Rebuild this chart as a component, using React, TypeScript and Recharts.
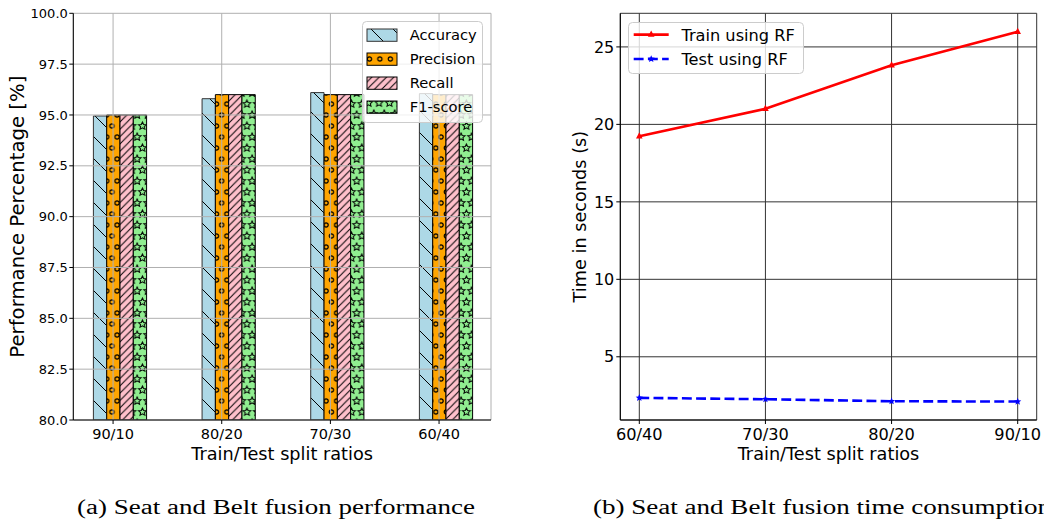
import React from 'react';
import {
  BarChart, Bar, LineChart, Line, XAxis, YAxis, CartesianGrid, Legend,
} from 'recharts';

// ---------- data ----------
const splitLabels = ['90/10', '80/20', '70/30', '60/40'];
const accuracy = [94.95, 95.8, 96.1, 96.05];
const precision = [95.0, 96.0, 96.0, 96.0];
const recall = [95.0, 96.0, 96.0, 96.0];
const f1score = [95.0, 96.0, 96.0, 96.0];
const perfTicks = [80, 82.5, 85, 87.5, 90, 92.5, 95, 97.5, 100];

const timeSplits = ['60/40', '70/30', '80/20', '90/10'];
const trainTime = [19.23, 21.01, 23.81, 25.98];
const testTime = [2.35, 2.26, 2.13, 2.11];
const timeTicks = [5, 10, 15, 20, 25];

// matplotlib puts the 2nd bar of each group on the tick, so the group centre
// sits half a bar width to the right of the tick
const BAR_UNITS = 0.1227;
const perfData = splitLabels.map((s, i) => ({
  pos: i + BAR_UNITS / 2,
  split: s,
  accuracy: accuracy[i],
  precision: precision[i],
  recall: recall[i],
  f1: f1score[i],
}));
const timeData = timeSplits.map((s, i) => ({ split: s, train: trainTime[i], test: testTime[i] }));

const FONT = 'DejaVu Sans, Verdana, sans-serif';

function starPath(cx: number, cy: number, R: number, r: number) {
  let d = '';
  for (let i = 0; i < 10; i++) {
    const a = -Math.PI / 2 + (i * Math.PI) / 5;
    const rad = i % 2 === 0 ? R : r;
    d += (i === 0 ? 'M' : 'L') + (cx + rad * Math.cos(a)).toFixed(2) + ',' + (cy + rad * Math.sin(a)).toFixed(2);
  }
  return d + 'Z';
}

const PW = 10.45; // circle / star hatch column spacing
const PH = 22; // two rows

const Patterns = () => (
  <defs>
    <pattern id="pAcc" patternUnits="userSpaceOnUse" width={22} height={22} x={93} y={4}>
      <rect width={22} height={22} fill="#add8e6" />
      <path d="M-2,-2L24,24M20,-2L24,2M-2,20L2,24" stroke="#000" strokeWidth={1} fill="none" />
    </pattern>
    <pattern id="pRec" patternUnits="userSpaceOnUse" width={7.33} height={7.33}>
      <rect width={7.33} height={7.33} fill="#ffc0cb" />
      <path d="M-1,8.33L8.33,-1M-1,1L1,-1M6.33,8.33L8.33,6.33" stroke="#000" strokeWidth={1} fill="none" />
    </pattern>
    <pattern id="pPre" patternUnits="userSpaceOnUse" width={PW} height={PH} x={106.7} y={5}>
      <rect width={PW} height={PH} fill="#ffa500" />
      {[[0, 0], [PW, 0], [0, PH], [PW, PH], [PW / 2, PH / 2]].map(([x, y], i) => (
        <circle key={i} cx={x} cy={y} r={2.1} fill="none" stroke="#000" strokeWidth={1.2} />
      ))}
    </pattern>
    <pattern id="pF1" patternUnits="userSpaceOnUse" width={PW} height={PH} x={137.2} y={5}>
      <rect width={PW} height={PH} fill="#90ee90" />
      {[[0, 0], [PW, 0], [0, PH], [PW, PH], [PW / 2, PH / 2]].map(([x, y], i) => (
        <path key={i} d={starPath(x, y, 4.1, 1.9)} fill="none" stroke="#000" strokeWidth={1} />
      ))}
    </pattern>
  </defs>
);

const perfItems = [
  { name: 'Accuracy', pid: 'pAcc', edge: '#333' },
  { name: 'Precision', pid: 'pPre', edge: '#000' },
  { name: 'Recall', pid: 'pRec', edge: '#000' },
  { name: 'F1-score', pid: 'pF1', edge: '#000' },
];

const PerfLegend = () => (
  <svg width={121} height={102} style={{ display: 'block', overflow: 'visible' }}>
    <rect x={0.5} y={0.5} width={120} height={101} rx={4} fill="#fff" fillOpacity={0.8} stroke="#cccccc" />
    {perfItems.map((it, i) => {
      const cy = 14 + 24 * i;
      return (
        <g key={it.name}>
          <rect x={5} y={cy - 6} width={30} height={12.3} fill={`url(#${it.pid})`} stroke={it.edge} strokeWidth={1} />
          <text x={47.7} y={cy + 0.365 * 14.7} fontSize={14.7} fontFamily={FONT} fill="#000">{it.name}</text>
        </g>
      );
    })}
  </svg>
);

const triPath = (cx: number, cy: number) => `M${cx},${cy - 4}L${cx + 3.3},${cy + 2.2}L${cx - 3.3},${cy + 2.2}Z`;

const TimeLegend = () => (
  <svg width={176} height={52} style={{ display: 'block', overflow: 'visible' }}>
    <rect x={0.5} y={0.5} width={175} height={51} rx={4} fill="#fff" fillOpacity={0.8} stroke="#cccccc" />
    <line x1={5.7} x2={40.7} y1={12.6} y2={12.6} stroke="#ff0000" strokeWidth={2.6} />
    <path d={triPath(23.2, 12.6)} fill="#ff0000" />
    <text x={53.4} y={12.6 + 0.365 * 16.2} fontSize={16.2} fontFamily={FONT} fill="#000">Train using RF</text>
    <line x1={5.7} x2={40.7} y1={37} y2={37} stroke="#0000ff" strokeWidth={2.6} strokeDasharray="9.9 4.3" />
    <path d={starPath(23.2, 37, 3.8, 1.7)} fill="#0000ff" />
    <text x={53.4} y={37 + 0.365 * 16.2} fontSize={16.2} fontFamily={FONT} fill="#000">Test using RF</text>
  </svg>
);

const TriDot = (props: any) => {
  const { cx, cy, index } = props;
  if (cx == null || cy == null) return <g key={`t${index}`} />;
  return <path key={`t${index}`} d={triPath(cx, cy)} fill="#ff0000" />;
};
const StarDot = (props: any) => {
  const { cx, cy, index } = props;
  if (cx == null || cy == null) return <g key={`s${index}`} />;
  return <path key={`s${index}`} d={starPath(cx, cy, 3.8, 1.7)} fill="#0000ff" />;
};

const PerfChart = () => (
  <BarChart
    width={520}
    height={470}
    data={perfData}
    margin={{ top: 13.3, right: 29, bottom: 0, left: 0 }}
    barGap={0}
    style={{ fontFamily: FONT }}
  >
    <Patterns />
    <Bar dataKey="accuracy" fill="url(#pAcc)" stroke="#333" strokeWidth={1} barSize={13.3} isAnimationActive={false} />
    <Bar dataKey="precision" fill="url(#pPre)" stroke="#000" strokeWidth={1} barSize={13.3} isAnimationActive={false} />
    <Bar dataKey="recall" fill="url(#pRec)" stroke="#000" strokeWidth={1} barSize={13.3} isAnimationActive={false} />
    <Bar dataKey="f1" fill="url(#pF1)" stroke="#000" strokeWidth={1} barSize={13.3} isAnimationActive={false} />
    <CartesianGrid stroke="#b0b0b0" strokeWidth={1} zIndex={350} />
    <XAxis
      dataKey="pos"
      type="number"
      domain={[-0.366, 3.478]}
      allowDataOverflow
      ticks={[0, 1, 2, 3]}
      interval={0}
      tickFormatter={(v: number) => splitLabels[Math.round(v)]}
      height={50}
      tickSize={4}
      tickMargin={5}
      axisLine={{ stroke: '#000', strokeWidth: 1 }}
      tickLine={{ stroke: '#000', strokeWidth: 1 }}
      tick={{ fill: '#000', fontSize: 14.5, fontFamily: FONT }}
      label={{ value: 'Train/Test split ratios', position: 'insideBottom', offset: 10.4, style: { fontSize: 17.7, fill: '#000', fontFamily: FONT } }}
    />
    <YAxis
      type="number"
      domain={[80, 100]}
      allowDataOverflow
      ticks={perfTicks}
      interval={0}
      tickFormatter={(v: number) => v.toFixed(1)}
      width={73.3}
      tickSize={4}
      tickMargin={1.5}
      axisLine={{ stroke: '#000', strokeWidth: 1 }}
      tickLine={{ stroke: '#000', strokeWidth: 1 }}
      tick={{ fill: '#000', fontSize: 13, fontFamily: FONT }}
      label={{ value: 'Performance Percentage [%]', angle: -90, position: 'insideLeft', offset: 17, style: { textAnchor: 'middle', fontSize: 19.7, fill: '#000', fontFamily: FONT } }}
    />
    <XAxis xAxisId="top" orientation="top" type="number" domain={[-0.366, 3.478]} allowDataOverflow height={0} tick={false} tickLine={false} axisLine={{ stroke: '#000', strokeWidth: 1 }} />
    <YAxis yAxisId="right" orientation="right" type="number" domain={[80, 100]} allowDataOverflow width={0} tick={false} tickLine={false} axisLine={{ stroke: '#000', strokeWidth: 1 }} />
    <Legend verticalAlign="middle" align="center" layout="horizontal" content={() => <PerfLegend />} wrapperStyle={{ left: 362, top: 21, width: 121, height: 102 }} />
  </BarChart>
);

const TimeChart = () => (
  <LineChart
    width={504}
    height={470}
    data={timeData}
    margin={{ top: 13.3, right: 7.3, bottom: 0, left: 0 }}
    style={{ fontFamily: FONT }}
  >
    <CartesianGrid stroke="#333" strokeWidth={1} />
    <XAxis
      dataKey="split"
      padding={{ left: 19, right: 19 }}
      interval={0}
      height={50}
      tickSize={4}
      tickMargin={4}
      axisLine={{ stroke: '#000', strokeWidth: 1 }}
      tickLine={{ stroke: '#000', strokeWidth: 1 }}
      tick={{ fill: '#000', fontSize: 16.2, fontFamily: FONT }}
      label={{ value: 'Train/Test split ratios', position: 'insideBottom', offset: 10.4, style: { fontSize: 17.7, fill: '#000', fontFamily: FONT } }}
    />
    <YAxis
      type="number"
      domain={[0.92, 27.17]}
      allowDataOverflow
      ticks={timeTicks}
      interval={0}
      width={80.3}
      tickSize={4}
      tickMargin={2}
      axisLine={{ stroke: '#000', strokeWidth: 1 }}
      tickLine={{ stroke: '#000', strokeWidth: 1 }}
      tick={{ fill: '#000', fontSize: 16, fontFamily: FONT }}
      label={{ value: 'Time in seconds (s)', angle: -90, position: 'insideLeft', offset: 40, style: { textAnchor: 'middle', fontSize: 17.7, fill: '#000', fontFamily: FONT } }}
    />
    <XAxis xAxisId="top" orientation="top" dataKey="split" height={0} tick={false} tickLine={false} axisLine={{ stroke: '#000', strokeWidth: 1 }} />
    <YAxis yAxisId="right" orientation="right" type="number" domain={[0.92, 27.17]} allowDataOverflow width={0} tick={false} tickLine={false} axisLine={{ stroke: '#000', strokeWidth: 1 }} />
    <Line type="linear" dataKey="train" stroke="#ff0000" strokeWidth={2.6} dot={TriDot} activeDot={false} isAnimationActive={false} />
    <Line type="linear" dataKey="test" stroke="#0000ff" strokeWidth={2.6} strokeDasharray="9.9 4.3" dot={StarDot} activeDot={false} isAnimationActive={false} />
    <Legend verticalAlign="middle" align="center" layout="horizontal" content={() => <TimeLegend />} wrapperStyle={{ left: 88.3, top: 21.7, width: 176, height: 52 }} />
  </LineChart>
);

const CAPTION_FONT = "'Liberation Serif', 'DejaVu Serif', serif";

export default function App() {
  return (
    <div style={{ position: 'absolute', left: 0, top: 0, width: 1044, height: 521, background: '#fff', overflow: 'hidden' }}>
      <div style={{ position: 'absolute', left: 0, top: 0 }}>
        <PerfChart />
      </div>
      <div style={{ position: 'absolute', left: 540, top: 0 }}>
        <TimeChart />
      </div>
      <svg width={1044} height={521} style={{ position: 'absolute', left: 0, top: 0, pointerEvents: 'none' }}>
        <text x={77} y={514} fontSize={20} fontFamily={CAPTION_FONT} fill="#000" textLength={398} lengthAdjust="spacingAndGlyphs">
          (a) Seat and Belt fusion performance
        </text>
        <text x={593} y={514} fontSize={20} fontFamily={CAPTION_FONT} fill="#000" textLength={458} lengthAdjust="spacingAndGlyphs">
          (b) Seat and Belt fusion time consumption
        </text>
      </svg>
    </div>
  );
}
